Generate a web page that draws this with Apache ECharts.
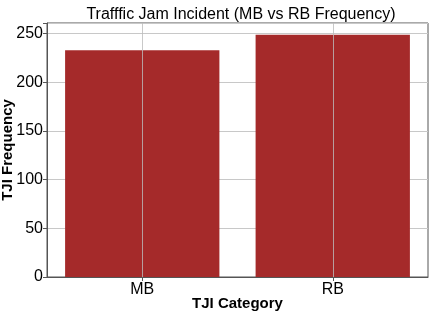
<!DOCTYPE html>
<html><head><meta charset="utf-8">
<script src="https://cdn.jsdelivr.net/npm/echarts@6/dist/echarts.min.js"></script>
<style>html,body{margin:0;padding:0;background:#fff}#c{width:436px;height:312px}</style>
</head><body><div id="c"></div>
<script>
const categories = ['MB', 'RB'];
const frequencies = [233, 249];
const yTicks = [0, 50, 100, 150, 200, 250];

const chart = echarts.init(document.getElementById('c'), null, {renderer: 'canvas'});
const font = 'Liberation Sans, Arial, sans-serif';
chart.setOption({
  animation: false,
  backgroundColor: '#fff',
  title: {
    text: 'Trafffic Jam Incident (MB vs RB Frequency)',
    left: 236, textAlign: 'center', top: 2,
    textStyle: {fontFamily: font, fontSize: 16, fontWeight: 'normal', color: '#000'}
  },
  grid: {left: 47, right: 8, top: 23, bottom: 35, show: true, borderColor: '#555', borderWidth: 1,
    backgroundColor: 'transparent', containLabel: false, outerBoundsMode: 'none'},
  xAxis: {
    type: 'category', data: categories, boundaryGap: true,
    name: 'TJI Category', nameLocation: 'middle', nameGap: 19, nameMoveOverlap: false,
    nameTextStyle: {fontFamily: font, fontSize: 15, fontWeight: 'bold', color: '#000'},
    axisLine: {show: true, lineStyle: {color: '#555'}},
    axisTick: {show: true, alignWithLabel: true, length: 4, lineStyle: {color: '#555'}},
    axisLabel: {fontFamily: font, fontSize: 16, color: '#000', margin: 5},
    splitLine: {show: false}
  },
  yAxis: {
    type: 'value', min: 0, max: 261, interval: 50,
    name: 'TJI Frequency', nameLocation: 'middle', nameGap: 32, nameMoveOverlap: false,
    nameTextStyle: {fontFamily: font, fontSize: 15, fontWeight: 'bold', color: '#000'},
    axisLine: {show: true, lineStyle: {color: '#555'}},
    axisTick: {show: true, length: 4, lineStyle: {color: '#555'}},
    axisLabel: {fontFamily: font, fontSize: 16, color: '#000', margin: 4,
      formatter: v => yTicks.includes(v) ? String(v) : ''},
    splitLine: {show: true, lineStyle: {color: '#c8c8c8', width: 1}}
  },
  series: [{
    type: 'bar', data: frequencies, barWidth: '81%',
    itemStyle: {color: '#a52a2a'},
    z: 2,
    markLine: {
      silent: true, symbol: 'none', label: {show: false},
      lineStyle: {color: '#bbbbbb', width: 1, type: 'solid', opacity: 0.8},
      data: categories.map(c => ({xAxis: c})),
      z: 3
    }
  }]
});
</script></body></html>
